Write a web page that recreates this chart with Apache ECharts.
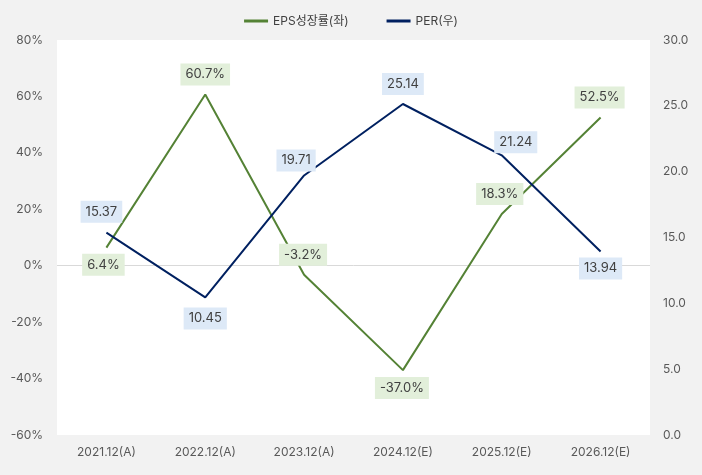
<!DOCTYPE html>
<html><head><meta charset="utf-8">
<script src="https://cdn.jsdelivr.net/npm/echarts@6/dist/echarts.min.js"></script>
<style>html,body{margin:0;padding:0;background:#f2f2f2}#c{width:702px;height:475px}</style>
</head><body><div id="c"></div>
<script>
const categories = ['2021.12(A)','2022.12(A)','2023.12(A)','2024.12(E)','2025.12(E)','2026.12(E)'];
const epsGrowth = [6.4, 60.7, -3.2, -37.0, 18.3, 52.5];
const per = [15.37, 10.45, 19.71, 25.14, 21.24, 13.94];
// label placement (pixel offsets of label centre from its point)
const epsLabelOffset = [[-3,17],[0,-20],[-1,-20],[-1,18],[-2,-20],[-1,-20]];
const perLabelOffset = [[-5,-21],[0,21],[-8,-15],[0,-20],[14,-13],[0,17]];

const FONT = 'Inter, "Noto Sans CJK KR", sans-serif';
const chart = echarts.init(document.getElementById('c'));
const labelBase = {show:true, position:'inside', align:'center', verticalAlign:'middle',
  fontFamily:FONT, fontSize:13, color:'#404040', padding:[5,5,4,5]};
chart.setOption({
  backgroundColor:'#f2f2f2',
  animation:false,
  textStyle:{fontFamily:FONT},
  legend:{top:10, left:'center', itemWidth:24, itemHeight:3, itemGap:38,
    textStyle:{fontFamily:FONT, fontSize:12, color:'#404040'},
    data:[{name:'EPS성장률(좌)', icon:'rect'},{name:'PER(우)', icon:'rect'}]},
  grid:{left:57, right:52, top:40, bottom:40, show:true, backgroundColor:'#ffffff', borderWidth:0},
  xAxis:{type:'category', data:categories, boundaryGap:true,
    axisLine:{show:false}, axisTick:{show:false},
    axisLabel:{fontFamily:FONT, fontSize:12, color:'#595959', margin:11}},
  yAxis:[
    {type:'value', min:-60, max:80, interval:20, splitLine:{show:false},
     axisLine:{show:false}, axisTick:{show:false},
     axisLabel:{formatter:'{value}%', fontFamily:FONT, fontSize:12, color:'#595959', margin:14}},
    {type:'value', min:0, max:30, interval:5, splitLine:{show:false},
     axisLine:{show:false}, axisTick:{show:false},
     axisLabel:{formatter:v=>v.toFixed(1), fontFamily:FONT, fontSize:12, color:'#595959', margin:13}}
  ],
  series:[
    {name:'_zero', type:'line', yAxisIndex:0, data:[], z:1, silent:true,
     markLine:{z:1, silent:true, symbol:'none', label:{show:false}, lineStyle:{color:'#d9d9d9', width:1, type:'solid'}, data:[{yAxis:0}]}},
    {name:'EPS성장률(좌)', type:'line', yAxisIndex:0, symbol:'circle', symbolSize:0, showSymbol:true,
     lineStyle:{color:'#548235', width:2}, itemStyle:{color:'#548235'},
     data:epsGrowth.map((v,i)=>({value:v, label:{...labelBase, offset:epsLabelOffset[i], backgroundColor:'#e2efda', formatter:p=>p.value.toFixed(1)+'%'}})),
     z:2},
    {name:'PER(우)', type:'line', yAxisIndex:1, symbol:'circle', symbolSize:0, showSymbol:true,
     lineStyle:{color:'#002060', width:2}, itemStyle:{color:'#002060'},
     data:per.map((v,i)=>({value:v, label:{...labelBase, offset:perLabelOffset[i], backgroundColor:'#dde9f7', formatter:p=>p.value.toFixed(2)}})),
     z:3}
  ]
});
</script></body></html>
